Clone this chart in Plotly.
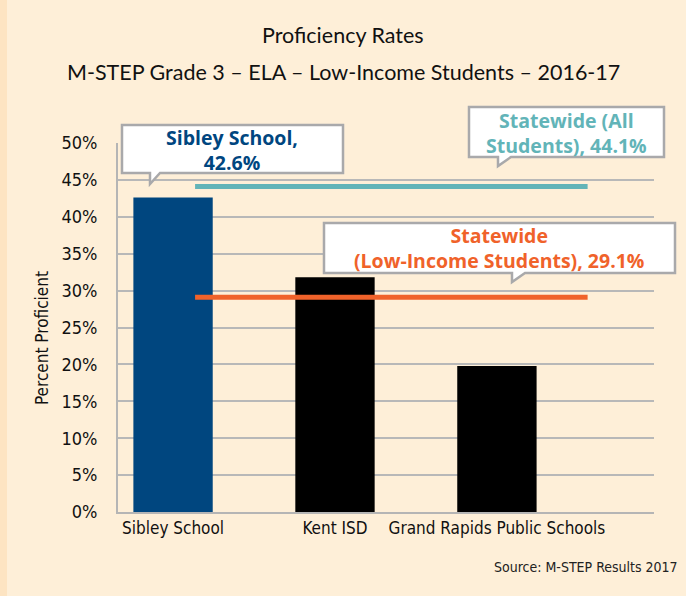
import plotly.graph_objects as go

categories = ["Sibley School", "Kent ISD", "Grand Rapids Public Schools"]
values = [42.6, 31.8, 19.8]
bar_colors = ["#00467F", "#000000", "#000000"]
state_all = 44.1
state_low = 29.1
y_ticks = list(range(0, 51, 5))
y_tick_labels = [f"{v}%" for v in y_ticks]

W, H = 686, 596
L, R, T, B = 118, 32, 143, 84
PW, PH = W - L - R, H - T - B

def px(x):
    return (x - L) / PW

def py(y):
    return (H - B - y) / PH

NARROW = "DejaVu Sans Condensed, Liberation Sans Narrow, sans-serif"
BOLD = "Open Sans, Lato, sans-serif"

fig = go.Figure()
fig.add_trace(go.Bar(
    x=categories, y=values, marker=dict(color=bar_colors, line=dict(width=0)),
    width=0.49, showlegend=False, hoverinfo="skip",
))

shapes = []
shapes.append(dict(type="rect", xref="paper", yref="paper", x0=px(0), x1=px(7), y0=py(H), y1=py(0),
                   fillcolor="#FDE4C2", line=dict(width=0), layer="below"))
shapes.append(dict(type="line", xref="x", yref="y", x0=0.136, x1=2.56, y0=state_all, y1=state_all,
                   line=dict(color="#62B4B8", width=5), layer="above"))
shapes.append(dict(type="line", xref="x", yref="y", x0=0.136, x1=2.56, y0=state_low, y1=state_low,
                   line=dict(color="#F0622A", width=5), layer="above"))

def callout(x0, y0, x1, y1, pa, pb, tipx, tipy):
    pts = [(x0, y0), (x1, y0), (x1, y1), (pb, y1), (tipx, tipy), (pa, y1), (x0, y1)]
    path = "M " + " L ".join(f"{px(a):.5f},{py(b):.5f}" for a, b in pts) + " Z"
    return dict(type="path", xref="paper", yref="paper", path=path, fillcolor="white",
                line=dict(color="#A9A9AB", width=2.5), layer="above")

shapes.append(callout(122, 125, 343, 173, 150, 160, 150, 184))
shapes.append(callout(469, 107, 664, 157, 498, 511, 498, 166))
shapes.append(callout(324, 223, 675, 273, 512, 525, 512, 282))

def label(text, x, y, family, size, color, weight="normal", xanchor="center", angle=0):
    return dict(text=text, xref="paper", yref="paper", x=px(x), y=py(y), xanchor=xanchor,
                yanchor="middle", showarrow=False, textangle=angle,
                font=dict(family=family, size=size, color=color, weight=weight))

annotations = [
    label("Sibley School,<br>42.6%", 232, 150, BOLD, 19.5, "#00467F", "bold"),
    label("Statewide (All<br>Students), 44.1%", 566, 133, BOLD, 19.5, "#62B4B8", "bold"),
    label("Statewide<br>(Low-Income Students), 29.1%", 499, 248, BOLD, 19.5, "#F0622A", "bold"),
    label("Proficiency Rates", 343, 35, "Lato, sans-serif", 21.5, "#111111"),
    label("M-STEP Grade 3 – ELA – Low-Income Students – 2016-17", 343, 72, "Lato, sans-serif", 21.5, "#111111"),
    label("Source: M-STEP Results 2017", 680, 567, NARROW, 14, "#222222", xanchor="right"),
    label("Percent Proficient", 42, 338, NARROW, 17, "#111111", angle=-90),
]

fig.update_layout(
    width=W, height=H, margin=dict(l=L, r=R, t=T, b=B, pad=0),
    paper_bgcolor="#FEEFD8", plot_bgcolor="#FEEFD8",
    shapes=shapes, annotations=annotations,
    xaxis=dict(range=[-0.34, 2.97], showgrid=False, zeroline=False, showline=True,
               linecolor="#B5B5B5", linewidth=2, ticks="", fixedrange=True,
               tickfont=dict(family=NARROW, size=17, color="#111111")),
    yaxis=dict(range=[0, 50], tickvals=y_ticks, ticktext=y_tick_labels, showgrid=True,
               gridcolor="#B8B8B8", gridwidth=1.5, zeroline=False, showline=True,
               linecolor="#B5B5B5", linewidth=2, ticks="", ticklabelstandoff=15,
               fixedrange=True, tickfont=dict(family=NARROW, size=18, color="#111111")),
)

fig.write_html("out.html", config={"displayModeBar": False},
               post_script="document.body.style.margin='0';")
